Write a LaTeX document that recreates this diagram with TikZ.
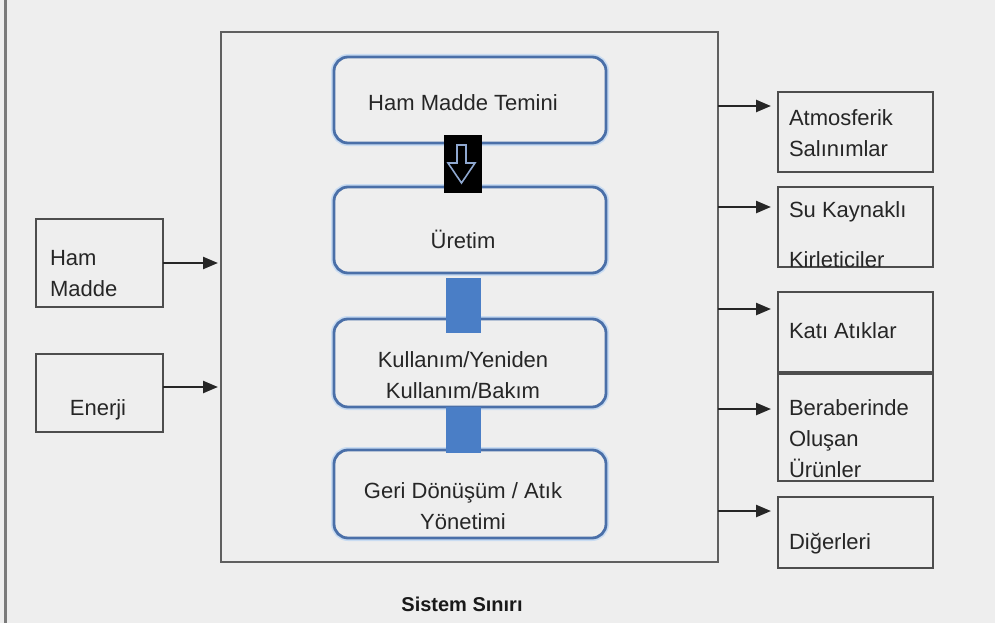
\documentclass[tikz,border=0pt]{standalone}
\usepackage{fontspec}
\setmainfont{Liberation Sans}
\usetikzlibrary{arrows.meta,calc}
\definecolor{bg}{HTML}{EEEEEE}
\definecolor{boxline}{HTML}{4D4D4D}
\definecolor{frameline}{HTML}{7A7A7A}
\definecolor{procline}{HTML}{4A6FA8}
\definecolor{procglow}{HTML}{C9DCF2}
\definecolor{connblue}{HTML}{4A7EC6}
\definecolor{txt}{HTML}{262626}
\definecolor{hollow}{HTML}{8FA8D0}
\begin{document}
\begin{tikzpicture}[x=1pt,y=-1pt,
  graybox/.style={draw=boxline,line width=2.5pt,fill=bg,rectangle,inner sep=0pt,outer sep=0pt},
  sysbox/.style={draw=boxline!90,line width=2.2pt,fill=bg,rectangle,inner sep=0pt,outer sep=0pt},
  procbox/.style={draw=procline,line width=2.8pt,rounded corners=14pt,fill=bg,inner sep=0pt,outer sep=0pt,
    preaction={draw=procglow,line width=6pt}},
  connbar/.style={fill=connblue,draw=none,inner sep=0pt,outer sep=0pt},
  connblack/.style={fill=black,draw=none,inner sep=0pt,outer sep=0pt},
  txtnode/.style={inner sep=0pt,outer sep=0pt,text=txt,font=\fontsize{22}{31}\selectfont},
  arr/.style={draw=black!85,line width=2.4pt,-{Triangle[length=15pt,width=12pt]}}
]
% canvas
\fill[bg] (0,0) rectangle (995,623);
\useasboundingbox (0,0) rectangle (995,623);
\draw[frameline,line width=3pt] (5,0) -- (5,623);

% system boundary
\node[sysbox,minimum width=497pt,minimum height=530pt] (sys) at (469.5,297) {};

% process boxes
\node[procbox,minimum width=272pt,minimum height=86pt] (b1) at (470,100) {};
\node[procbox,minimum width=272pt,minimum height=86pt] (b2) at (470,230) {};
\node[procbox,minimum width=272pt,minimum height=88pt] (b3) at (470,363) {};
\node[procbox,minimum width=272pt,minimum height=88pt] (b4) at (470,494) {};

% connectors between process boxes
\node[connblack,minimum width=38pt,minimum height=58pt] (c12) at (463,164) {};
\draw[hollow,line width=1.6pt,line join=miter,shift={(c12.center)}]
  (-6,-19) -- (3,-19) -- (3,-1) -- (12,-1) -- (-1.5,19) -- (-15,-1) -- (-6,-1) -- cycle;
\node[connbar,minimum width=35pt,minimum height=55pt] (c23) at (463.5,305.5) {};
\node[connbar,minimum width=35pt,minimum height=46pt] (c34) at (463.5,430) {};

% inputs
\node[graybox,minimum width=127pt,minimum height=88pt] (ham) at (99.5,263) {};
\node[graybox,minimum width=127pt,minimum height=78pt] (ener) at (99.5,393) {};

% outputs
\node[graybox,minimum width=155pt,minimum height=80pt] (atm) at (855.5,132) {};
\node[graybox,minimum width=155pt,minimum height=80pt] (su) at (855.5,227) {};
\node[graybox,minimum width=155pt,minimum height=80pt] (kati) at (855.5,332) {};
\node[graybox,minimum width=155pt,minimum height=107pt] (ber) at (855.5,427.5) {};
\node[graybox,minimum width=155pt,minimum height=71pt] (dig) at (855.5,532.5) {};

% arrow levels
\coordinate (yham) at (0,263);
\coordinate (yener) at (0,387);
\coordinate (yatm) at (0,106);
\coordinate (ysu) at (0,207);
\coordinate (ykati) at (0,309);
\coordinate (yber) at (0,409);
\coordinate (ydig) at (0,511);

\draw[arr,shorten >=3pt] (ham.east |- yham) -- (sys.west |- yham);
\draw[arr,shorten >=3pt] (ener.east |- yener) -- (sys.west |- yener);
\draw[arr,shorten >=7pt] (sys.east |- yatm) -- (atm.west |- yatm);
\draw[arr,shorten >=7pt] (sys.east |- ysu) -- (su.west |- ysu);
\draw[arr,shorten >=7pt] (sys.east |- ykati) -- (kati.west |- ykati);
\draw[arr,shorten >=7pt] (sys.east |- yber) -- (ber.west |- yber);
\draw[arr,shorten >=7pt] (sys.east |- ydig) -- (dig.west |- ydig);

% texts (multi-line nodes: base anchor = baseline of last line)
\node[txtnode,anchor=base] (t1) at (463,111) {Ham Madde Temini};
\node[txtnode,anchor=base] (t2) at (463,248) {Üretim};
\node[txtnode,anchor=base,align=center] (t3) at (463,398) {Kullanım/Yeniden\\Kullanım/Bakım};
\node[txtnode,anchor=base,align=center] (t4) at (463,529) {Geri Dönüşüm / Atık\\Yönetimi};

\node[txtnode,anchor=base west,align=left] (tham) at (50,296) {Ham\\Madde};
\node[txtnode,anchor=base] (tener) at (98,415) {Enerji};

\node[txtnode,anchor=base west,align=left] (tatm) at (789,157) {Atmosferik\\[1pt]Salınımlar};
\node[txtnode,anchor=base west,align=left] (tsu) at (789,267) {Su Kaynaklı\\[19pt]Kirleticiler};
\node[txtnode,anchor=base west] (tkati) at (789,338) {Katı Atıklar};
\node[txtnode,anchor=base west,align=left] (tber) at (789,477) {Beraberinde\\Oluşan\\Ürünler};
\node[txtnode,anchor=base west] (tdig) at (789,549) {Diğerleri};

\node[inner sep=0pt,text=black!90,font=\bfseries\fontsize{20}{24}\selectfont,anchor=base] (tsys) at (462,611) {Sistem Sınırı};
\end{tikzpicture}
\end{document}
